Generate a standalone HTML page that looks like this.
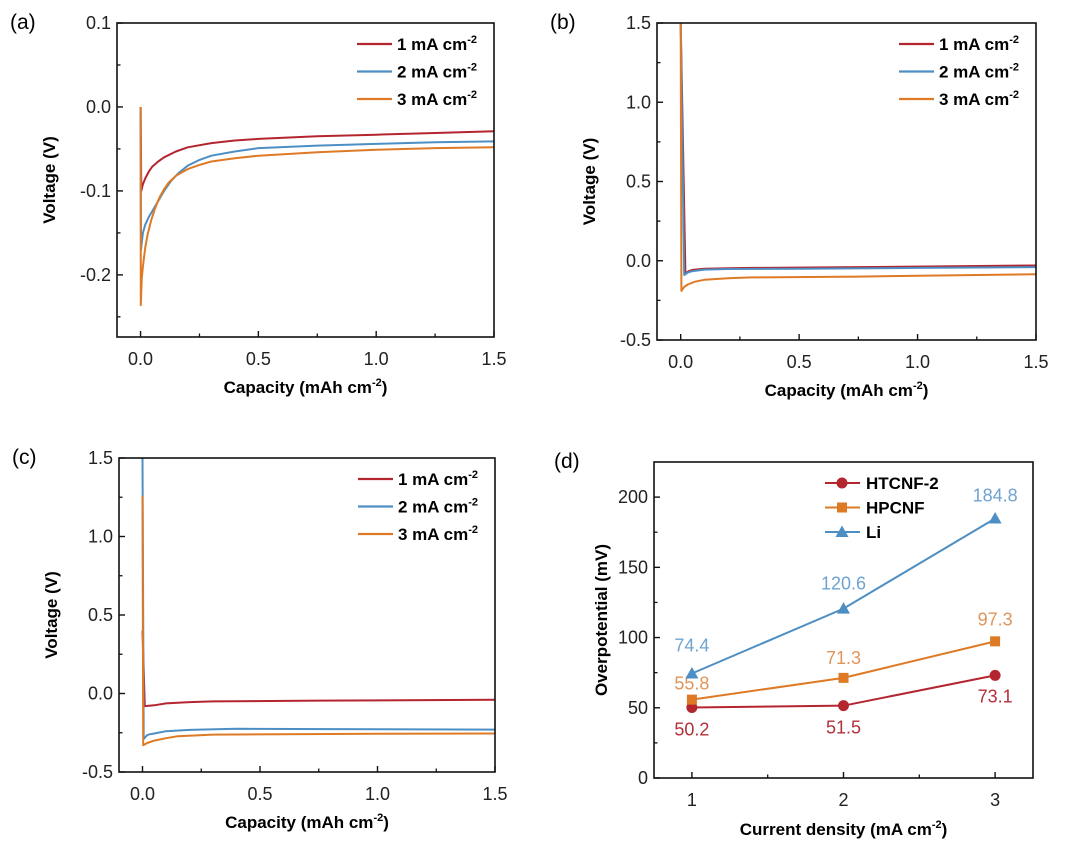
<!DOCTYPE html>
<html><head><meta charset="utf-8">
<style>
html,body{margin:0;padding:0;background:#fff;}
svg{display:block;font-family:"Liberation Sans",Arial,sans-serif;}
</style></head>
<body>
<svg id="fig" width="1080" height="851" viewBox="0 0 1080 851" xmlns="http://www.w3.org/2000/svg"></svg>
<script>
// ---------- Panel (a) data ----------
const aRedX = [0,0.003,0.01,0.02,0.035,0.05,0.075,0.1,0.15,0.2,0.3,0.4,0.5,0.75,1.0,1.25,1.5];
const aRedY = [0,-0.1,-0.092,-0.085,-0.077,-0.071,-0.065,-0.06,-0.053,-0.048,-0.043,-0.04,-0.038,-0.035,-0.033,-0.031,-0.029];
const aBlueX = [0,0.002,0.01,0.02,0.035,0.05,0.075,0.1,0.13,0.16,0.2,0.25,0.3,0.4,0.5,0.75,1.0,1.25,1.5];
const aBlueY = [0,-0.17,-0.15,-0.14,-0.131,-0.124,-0.112,-0.1,-0.088,-0.079,-0.07,-0.063,-0.058,-0.053,-0.049,-0.046,-0.044,-0.042,-0.041];
const aOrX = [0,0.001,0.005,0.01,0.02,0.03,0.045,0.06,0.08,0.1,0.12,0.15,0.2,0.25,0.3,0.4,0.5,0.75,1.0,1.25,1.5];
const aOrY = [0,-0.236,-0.205,-0.19,-0.167,-0.152,-0.135,-0.122,-0.108,-0.098,-0.09,-0.082,-0.074,-0.069,-0.065,-0.061,-0.058,-0.054,-0.051,-0.049,-0.048];
const aXTicks = [0,0.5,1.0,1.5];
const aYTicks = [0.1,0.0,-0.1,-0.2];
// ---------- Panel (b) data ----------
const bRedX = [0,0.02,0.035,0.05,0.1,0.2,0.3,0.75,1.5];
const bRedY = [1.5,-0.08,-0.065,-0.058,-0.05,-0.047,-0.045,-0.04,-0.03];
const bBlueX = [0,0.015,0.03,0.05,0.1,0.2,0.5,1.0,1.5];
const bBlueY = [1.5,-0.09,-0.075,-0.065,-0.056,-0.052,-0.05,-0.045,-0.04];
const bOrX = [0,0.003,0.015,0.03,0.06,0.1,0.2,0.3,0.75,1.5];
const bOrY = [1.5,-0.19,-0.165,-0.15,-0.132,-0.12,-0.11,-0.105,-0.1,-0.085];
const bXTicks = [0,0.5,1.0,1.5];
const bYTicks = [1.5,1.0,0.5,0.0,-0.5];
// ---------- Panel (c) data ----------
const cRedX = [0,0.01,0.05,0.1,0.2,0.3,0.75,1.5];
const cRedY = [0.4,-0.08,-0.075,-0.063,-0.055,-0.05,-0.045,-0.04];
const cBlueX = [0,0.005,0.02,0.03,0.05,0.1,0.2,0.4,1.0,1.5];
const cBlueY = [1.5,-0.29,-0.265,-0.26,-0.255,-0.24,-0.232,-0.225,-0.228,-0.23];
const cOrX = [0,0.003,0.02,0.05,0.1,0.15,0.3,1.0,1.5];
const cOrY = [1.26,-0.33,-0.315,-0.3,-0.285,-0.272,-0.262,-0.257,-0.255];
const cXTicks = [0,0.5,1.0,1.5];
const cYTicks = [1.5,1.0,0.5,0.0,-0.5];
// ---------- Panel (d) data ----------
const dCategories = [1,2,3];
const dHTCNF = [50.2,51.5,73.1];
const dHPCNF = [55.8,71.3,97.3];
const dLi = [74.4,120.6,184.8];
const dYTicks = [0,50,100,150,200];

const NS="http://www.w3.org/2000/svg";
const fig=document.getElementById('fig');
const RED="#b3262f", BLUE="#4d8fc4", OR="#de7a25";
const RED_T="#b3303a", BLUE_T="#6fa3cf", OR_T="#e0955a";
function mk(tag,attrs,parent){const e=document.createElementNS(NS,tag);for(const k in attrs)e.setAttribute(k,attrs[k]);(parent||fig).appendChild(e);return e;}
function fmt(v,d){return v<0?'-'+Math.abs(v).toFixed(d):v.toFixed(d);}

function frame(g,P){
  const r=mk('rect',{x:P.x0,y:P.y0,width:P.x1-P.x0,height:P.y1-P.y0,fill:'none',stroke:'#111','stroke-width':1.6},g);
  
  
}
function linePanel(P,series,xt,yt,yd,label,ylab,legendY){
  const g=mk('g',{});
  
  
  const sx=v=>P.x0+(v-P.xmin)/(P.xmax-P.xmin)*(P.x1-P.x0);
  const sy=v=>P.y1-(v-P.ymin)/(P.ymax-P.ymin)*(P.y1-P.y0);
  const pl=mk('text',{x:P.x0-107,y:P.y0+6,'font-size':21},g);pl.textContent='('+label+')';
  
  
  series.forEach(s=>{
    let d='';s.x.forEach((v,i)=>{d+=(i?'L':'M')+sx(v).toFixed(1)+','+sy(s.y[i]).toFixed(1);});
    const p=mk('path',{d:d,fill:'none',stroke:s.c,'stroke-width':2,'stroke-linejoin':'round'},g);
    
    
  });
  frame(g,P);
  xt.forEach((v,i)=>{
    const X=sx(v);
    mk('line',{x1:X,x2:X,y1:P.y1,y2:P.y1-6,stroke:'#111','stroke-width':1.4},g);
    if(i<xt.length-1){const m=sx(v+(xt[1]-xt[0])/2);mk('line',{x1:m,x2:m,y1:P.y1,y2:P.y1-3.5,stroke:'#111','stroke-width':1.3},g);}
    const t=mk('text',{x:X,y:P.y1+28,'font-size':18,'text-anchor':'middle',fill:'#222'},g);t.textContent=v.toFixed(1);
    
    
  });
  const step=yt[0]-yt[1];
  yt.forEach(v=>{
    const Y=sy(v);
    mk('line',{x1:P.x0,x2:P.x0+6,y1:Y,y2:Y,stroke:'#111','stroke-width':1.4},g);
    const m=sy(v-step/2); if(m<P.y1-1) mk('line',{x1:P.x0,x2:P.x0+3.5,y1:m,y2:m,stroke:'#111','stroke-width':1.3},g);
    const t=mk('text',{x:P.x0-6,y:Y+6,'font-size':18,'text-anchor':'end',fill:'#222'},g);t.textContent=fmt(v,yd);
    
    
  });
  const xl=mk('text',{x:(P.x0+P.x1)/2,y:P.y1+56,'font-size':17,'font-weight':'bold','text-anchor':'middle'},g);
  xl.innerHTML='Capacity (mAh cm<tspan dy="-7" font-size="11">-2</tspan><tspan dy="7">)</tspan>';
  
  
  const yl=mk('text',{x:0,y:0,'font-size':17,'font-weight':'bold','text-anchor':'middle',transform:'translate('+(P.x0-62)+','+((P.y0+P.y1)/2)+') rotate(-90)'},g);
  yl.textContent=ylab;
  
  
  series.forEach((s,i)=>{
    const Y=legendY+i*27.5, lx=P.x1-137;
    const le=mk('g',{},g);
    
    
    mk('line',{x1:lx,x2:lx+35,y1:Y,y2:Y,stroke:s.c,'stroke-width':2.2},le);
    const t=mk('text',{x:lx+40,y:Y+6,'font-size':17,'font-weight':'bold'},le);
    t.innerHTML=(i+1)+' mA cm<tspan dy="-7" font-size="11">-2</tspan>';
  });
}
linePanel({x0:117,x1:494,y0:23,y1:337,xmin:-0.1,xmax:1.5,ymin:-0.274,ymax:0.1},
  [{n:'1-mA',x:aRedX,y:aRedY,c:RED},{n:'2-mA',x:aBlueX,y:aBlueY,c:BLUE},{n:'3-mA',x:aOrX,y:aOrY,c:OR}],aXTicks,aYTicks,1,'a','Voltage (V)',44);
linePanel({x0:657,x1:1036,y0:23,y1:340,xmin:-0.1,xmax:1.5,ymin:-0.5,ymax:1.5},
  [{n:'1-mA',x:bRedX,y:bRedY,c:RED},{n:'2-mA',x:bBlueX,y:bBlueY,c:BLUE},{n:'3-mA',x:bOrX,y:bOrY,c:OR}],bXTicks,bYTicks,1,'b','Voltage (V)',44);
linePanel({x0:119,x1:495,y0:458,y1:772,xmin:-0.1,xmax:1.5,ymin:-0.5,ymax:1.5},
  [{n:'1-mA',x:cRedX,y:cRedY,c:RED},{n:'2-mA',x:cBlueX,y:cBlueY,c:BLUE},{n:'3-mA',x:cOrX,y:cOrY,c:OR}],cXTicks,cYTicks,1,'c','Voltage (V)',479);

// ---------- panel d ----------
(function(){
  const P={x0:654,x1:1033,y0:462,y1:778,xmin:0.75,xmax:3.25,ymin:0,ymax:225};
  const g=mk('g',{});
  
  
  const sx=v=>P.x0+(v-P.xmin)/(P.xmax-P.xmin)*(P.x1-P.x0);
  const sy=v=>P.y1-(v-P.ymin)/(P.ymax-P.ymin)*(P.y1-P.y0);
  const pl=mk('text',{x:554,y:468,'font-size':21},g);pl.textContent='(d)';
  
  
  const S=[{n:'HTCNF-2',v:dHTCNF,c:RED,tc:RED_T,m:'circle',off:[22,22,21]},
           {n:'HPCNF',v:dHPCNF,c:OR,tc:OR_T,m:'square',off:[-16,-20,-22]},
           {n:'Li',v:dLi,c:BLUE,tc:BLUE_T,m:'triangle',off:[-28,-25,-23]}];
  function marker(par,m,x,y,c){
    if(m==='circle') return mk('circle',{cx:x,cy:y,r:5.5,fill:c},par);
    if(m==='square') return mk('rect',{x:x-5,y:y-5,width:10,height:10,fill:c},par);
    return mk('polygon',{points:(x)+','+(y-6.5)+' '+(x-6.5)+','+(y+5)+' '+(x+6.5)+','+(y+5),fill:c},par);
  }
  S.forEach(s=>{
    let d='';dCategories.forEach((c,i)=>{d+=(i?'L':'M')+sx(c)+','+sy(s.v[i]);});
    const p=mk('path',{d:d,fill:'none',stroke:s.c,'stroke-width':2},g);
    
    
  });
  S.forEach(s=>{
    dCategories.forEach((c,i)=>{
      const mm=marker(g,s.m,sx(c),sy(s.v[i]),s.c);
      
      
      const t=mk('text',{x:sx(c),y:sy(s.v[i])+s.off[i]+6,'font-size':18,'text-anchor':'middle',fill:s.tc},g);
      t.textContent=s.v[i].toFixed(1);
      
      
    });
  });
  frame(g,P);
  dCategories.forEach((c,i)=>{
    const X=sx(c);
    mk('line',{x1:X,x2:X,y1:P.y1,y2:P.y1-6,stroke:'#111','stroke-width':1.4},g);
    if(i<dCategories.length-1){const m=sx(c+0.5);mk('line',{x1:m,x2:m,y1:P.y1,y2:P.y1-3.5,stroke:'#111','stroke-width':1.3},g);}
    const t=mk('text',{x:X,y:P.y1+28,'font-size':18,'text-anchor':'middle',fill:'#222'},g);t.textContent=c;
    
    
  });
  dYTicks.forEach(v=>{
    const Y=sy(v);
    mk('line',{x1:P.x0,x2:P.x0+6,y1:Y,y2:Y,stroke:'#111','stroke-width':1.4},g);
    const m=sy(v+25); if(m>P.y0+1) mk('line',{x1:P.x0,x2:P.x0+3.5,y1:m,y2:m,stroke:'#111','stroke-width':1.3},g);
    const t=mk('text',{x:P.x0-6,y:Y+6,'font-size':18,'text-anchor':'end',fill:'#222'},g);t.textContent=v;
    
    
  });
  const xl=mk('text',{x:(P.x0+P.x1)/2,y:P.y1+57,'font-size':17,'font-weight':'bold','text-anchor':'middle'},g);
  xl.innerHTML='Current density (mA cm<tspan dy="-7" font-size="11">-2</tspan><tspan dy="7">)</tspan>';
  
  
  const yl=mk('text',{x:0,y:0,'font-size':17,'font-weight':'bold','text-anchor':'middle',transform:'translate('+(P.x0-47)+','+((P.y0+P.y1)/2)+') rotate(-90)'},g);
  yl.textContent='Overpotential (mV)';
  
  
  S.forEach((s,i)=>{
    const Y=483+i*24.5;
    const le=mk('g',{},g);
    
    
    mk('line',{x1:825,x2:860,y1:Y,y2:Y,stroke:s.c,'stroke-width':2},le);
    marker(le,s.m,842,Y,s.c);
    const t=mk('text',{x:866,y:Y+6,'font-size':17,'font-weight':'bold'},le);t.textContent=s.n;
  });
})();
</script>
</body></html>
